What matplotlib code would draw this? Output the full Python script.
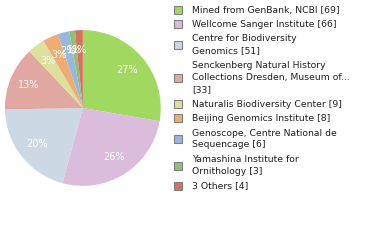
import matplotlib
matplotlib.use("Agg")
import matplotlib.pyplot as plt
from matplotlib.patches import Rectangle

labels = [
    "Mined from GenBank, NCBI [69]",
    "Wellcome Sanger Institute [66]",
    "Centre for Biodiversity\nGenomics [51]",
    "Senckenberg Natural History\nCollections Dresden, Museum of...\n[33]",
    "Naturalis Biodiversity Center [9]",
    "Beijing Genomics Institute [8]",
    "Genoscope, Centre National de\nSequencage [6]",
    "Yamashina Institute for\nOrnithology [3]",
    "3 Others [4]",
]
counts = [69, 66, 51, 33, 9, 8, 6, 3, 4]
colors = ["#a0d860", "#dcbcdc", "#ccd8e4", "#e0a8a0", "#dce09c",
          "#f0ac70", "#98b8e0", "#90c070", "#d87060"]

W, H = 380, 240
fig = plt.figure(figsize=(W / 100, H / 100), dpi=100)
ax = fig.add_axes([0.013, 0.225, 0.41, 0.65])

ax.pie(counts, colors=colors, startangle=90, counterclock=False,
       autopct=lambda p: f"{int(p)}%", pctdistance=0.75,
       textprops=dict(color="white", fontsize=7),
       wedgeprops=dict(linewidth=0))
ax.set_xlim(-1, 1)
ax.set_ylim(-1, 1)
ax.set_aspect("equal")

# legend, laid out by hand in pixel units
pitch = 12.5
gap = 1.7
y = 10.0
for lab, col in zip(labels, colors):
    n = lab.count("\n") + 1
    yc = y + (n - 1) * pitch / 2
    fig.add_artist(Rectangle(((174) / W, 1 - (yc + 4) / H), 8 / W, 8 / H,
                             facecolor=col, edgecolor="#808080", linewidth=0.8,
                             transform=fig.transFigure))
    fig.text(192 / W, 1 - yc / H, lab, fontsize=6.7, color="#202020",
             va="center", ha="left", linespacing=1.38)
    y += n * pitch + gap

fig.savefig("out.png", dpi=100)
